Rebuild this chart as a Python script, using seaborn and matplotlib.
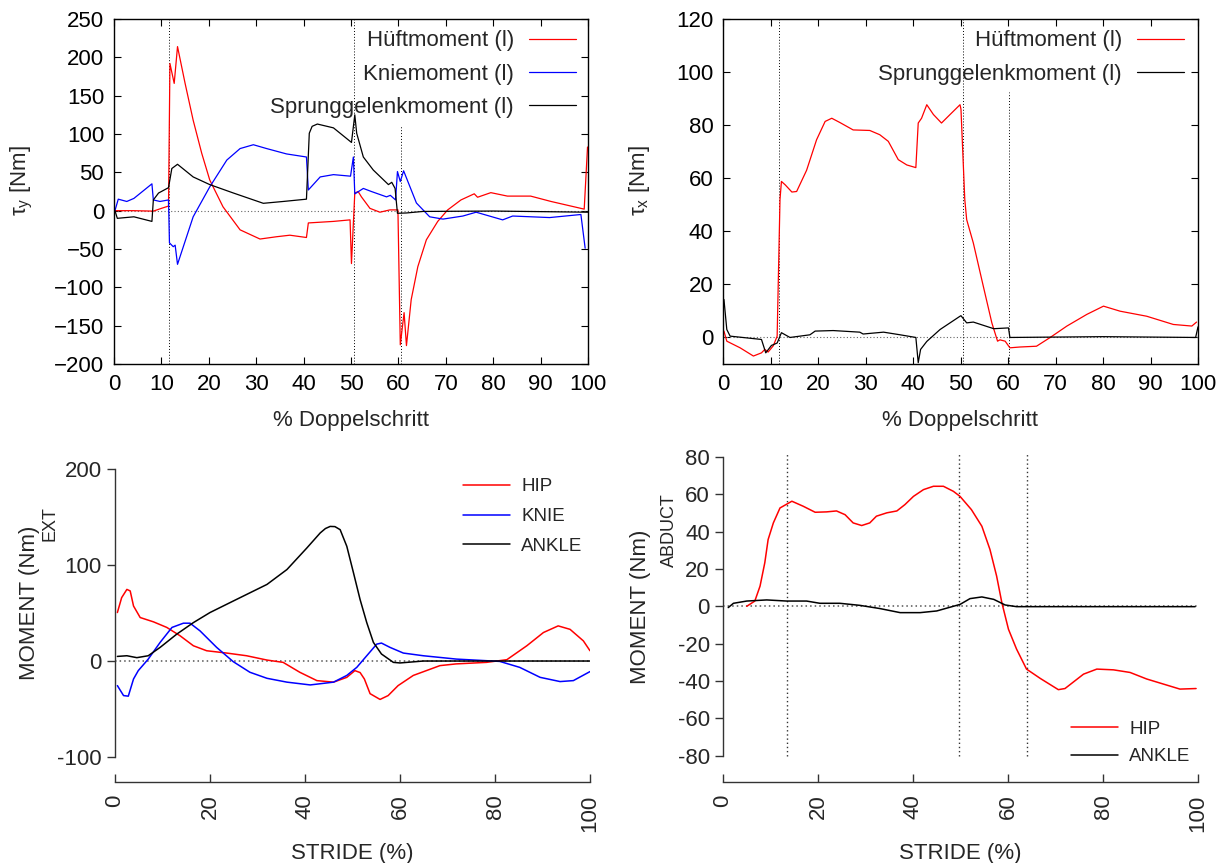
import matplotlib
matplotlib.use("Agg")
import matplotlib.pyplot as plt
import pandas as pd
import seaborn as sns

# --- Data ---
# top left: tau_y
hip_y_x = [0.2, 4.0, 8.3, 10.0, 11.5, 11.8, 12.7, 13.4, 15.0, 16.7, 18.5, 20.2, 23.0, 26.6, 30.8, 34.3, 37.1, 40.6,
           41.0, 46.3, 49.8, 50.1, 50.8, 51.5, 52.2, 54.0, 56.1, 58.2, 59.9, 60.4, 61.2, 61.7, 62.7, 64.1, 65.9, 68.3,
           70.4, 73.2, 76.0, 76.7, 79.5, 83.0, 87.9, 92.2, 98.5, 99.2, 99.9]
hip_y = [0, 0, -0.6, 3, 6, 192, 166, 214, 166, 118, 75, 40, 5, -25, -37, -34, -32, -35,
         -16, -14, -12, -69, 23, 25, 18, 3, -2, 1, 1, -175, -133, -176, -116, -73, -38, -14,
         1, 14, 22, 17.5, 23.5, 19, 19, 12, 3, 2, 83]

knee_y_x = [0.2, 0.9, 2.7, 4.2, 5.6, 8.0, 8.3, 9.7, 11.5, 11.7, 12.5, 12.9, 13.4, 16.7, 20.2, 23.8, 26.6, 29.4,
            32.2, 36.4, 40.6, 41.0, 43.5, 46.3, 49.9, 50.5, 50.8, 51.1, 52.6, 54.3, 57.5, 58.3, 59.4, 59.8, 60.4,
            61.1, 63.8, 66.6, 69.4, 73.6, 76.4, 79.2, 82.0, 84.1, 91.9, 98.5, 99.4]
knee_y = [0, 15, 12, 16, 23, 35, 14, 12, 14, -42, -47, -45, -70, -8, 31, 66, 81, 86,
          81, 74, 70, 27, 44, 47, 45, 70, 22, 23, 29, 25, 18, 20, 14, 51, 38,
          52, 10, -8, -11, -7, -2, -7, -12, -7, -9, -5, -49]

ankle_y_x = [0.2, 0.7, 4.2, 8.0, 8.3, 9.4, 11.5, 12.2, 13.4, 16.7, 20.2, 25.2, 31.5, 35.7, 40.6, 41.2, 41.8, 42.9,
             46.3, 50.1, 50.8, 51.2, 52.6, 54.7, 57.9, 58.6, 59.3, 59.8, 61.7, 65.2, 80.0, 100]
ankle_y = [0, -10, -8, -14, 14, 23, 30, 55, 60.5, 44, 34, 23, 9.6, 12, 15, 101, 110, 113,
           108, 89, 125, 101, 70, 53, 34, 37, 29, -3.4, -3, -1, -0.5, -2]

# top right: tau_x
hip_x_x = [0.2, 0.8, 3.6, 6.4, 8.1, 8.8, 9.5, 10.6, 11.4, 12.0, 12.3, 13.1, 14.5, 15.5, 17.6, 19.7, 21.5, 22.9,
           24.6, 27.4, 30.9, 33.0, 34.8, 36.9, 38.7, 40.6, 41.1, 41.8, 42.9, 44.3, 46.0, 47.8, 49.9, 50.1, 50.9,
           51.3, 52.7, 54.8, 56.6, 57.8, 58.3, 59.4, 60.4, 62.5, 66.0, 68.8, 72.4, 76.6, 80.1, 83.6, 89.2, 94.8,
           98.7, 99.7]
hip_x = [2.4, -1.4, -3.9, -7, -5.8, -4.5, -5.5, -3.1, 0.5, 52, 58.8, 57.5, 54.8, 55, 63, 74.5, 81.4, 82.6,
         81, 78.2, 78, 76.4, 73.9, 67, 65, 64, 80.8, 82.6, 87.7, 84, 80.8, 84, 87.7, 86, 52,
         44.4, 35.6, 19.3, 5.5, -1.4, -0.9, -1.4, -3.9, -3.6, -3.3, -0.1, 4.3, 8.7, 11.8, 9.9, 8, 4.9,
         4.3, 5.8]

ankle_x_x = [0.2, 0.8, 1.5, 8.1, 9.0, 10.2, 11.4, 12.3, 14.1, 18.3, 19.4, 23.2, 28.8, 29.5, 33.8, 37.3, 40.6,
             41.1, 41.6, 42.9, 45.7, 49.9, 50.1, 51.3, 52.7, 57.0, 60.1, 60.4, 80.0, 99.5, 100]
ankle_x = [14.3, 3, 0.5, -0.75, -5.8, -3, -2.1, 1.8, 0, 1, 2.4, 2.6, 2, 1.3, 2, 1, 0,
           -9.5, -4.5, -1.5, 3, 8, 8.2, 5.5, 5.8, 3.3, 3.6, 0, 0.3, 0, 4]

# bottom left: external moments
hip_ext_x = [0.5, 1.4, 2.5, 3.2, 3.9, 5.3, 8.1, 10.9, 13.7, 16.5, 19.3, 23.5, 27.7, 32.0, 35.4, 38.9, 42.5, 46.0,
             48.8, 50.5, 51.6, 52.5, 53.7, 55.8, 57.5, 59.6, 62.8, 68.4, 71.8, 78.2, 82.5, 86.7, 90.2, 93.3, 95.8,
             98.6, 100]
hip_ext = [50.5, 66, 74.6, 73, 57.3, 45.3, 40.8, 35, 26.3, 15.9, 10.7, 8.3, 5.5, 1, -1.4, -11.7, -20.4, -22,
           -17, -10, -12, -18.7, -34, -40, -36, -25.6, -15, -4.8, -3, -1.4, 1.4, 15.9, 29.7, 36.6, 33,
           21, 10.7]

knee_ext_x = [0.5, 1.8, 2.8, 3.9, 4.9, 7.0, 9.5, 12.0, 14.4, 15.8, 17.9, 21.4, 24.9, 28.4, 32.0, 36.2, 41.1, 46.0,
              48.8, 50.9, 53.0, 55.1, 56.1, 57.9, 60.7, 64.9, 71.9, 81.0, 85.2, 89.5, 93.7, 96.5, 100]
knee_ext = [-25.6, -36, -36.6, -18.7, -10, 2, 19.4, 35, 39.4, 39.4, 31.4, 14.2, -0.7, -11.7, -18, -22, -24.9, -22,
            -15, -6.6, 5.5, 17.6, 18.7, 14.2, 8.3, 5.5, 2, -0.4, -6.6, -17, -21.4, -20.4, -11]

ankle_ext_x = [0.5, 2.5, 4.6, 7.0, 9.5, 13.0, 16.5, 20.0, 24.9, 32.0, 36.2, 40.4, 43.2, 44.3, 45.3, 46.3, 47.4,
               48.8, 50.2, 51.6, 53.0, 54.4, 56.1, 58.6, 60.0, 64.9, 100]
ankle_ext = [4.8, 5.5, 3.5, 5.5, 14.2, 28, 40, 50.5, 62.5, 79.8, 95.3, 117.8, 133.4, 138, 140.2, 140, 136.8,
             119.5, 92, 64, 40, 19.4, 7.3, -1.4, -2, 0, 0]

# bottom right: abduction moments
hip_abd_x = [5.0, 6.7, 7.8, 8.8, 9.5, 10.6, 12.0, 14.5, 16.9, 19.4, 21.8, 23.9, 25.7, 27.4, 29.2, 30.9, 32.3,
             34.5, 36.6, 38.3, 40.1, 42.2, 44.3, 46.4, 48.5, 49.9, 52.3, 54.5, 56.2, 57.6, 58.7, 60.1, 61.8, 63.9,
             66.8, 70.6, 72.0, 75.9, 78.7, 82.2, 85.7, 89.2, 92.7, 96.2, 99.6]
hip_abd = [0, 2.8, 10.8, 23.3, 35.7, 44.6, 52.6, 56.2, 53.5, 50.3, 50.5, 51, 49, 44.6, 43.2, 44.6, 48.2,
           50, 51, 54.4, 58.8, 62.4, 64.2, 64.2, 61.5, 58.8, 51.7, 42.8, 30.4, 16.2, 2, -12.3, -22.9, -33.6,
           -38.6, -44.6, -44, -36.3, -33.6, -34, -35.4, -38.9, -41.6, -44.3, -44]

ankle_abd_x = [1.1, 2.2, 5.0, 9.2, 13.4, 17.6, 20.4, 24.6, 28.8, 33.0, 37.3, 41.5, 45.0, 49.9, 52.0, 54.5, 57.0,
               59.4, 61.8, 99.4]
ankle_abd = [-0.7, 1.6, 2.8, 3.4, 2.8, 2.8, 1.6, 1.6, 0.5, -1.2, -3.4, -3.4, -2.5, 1, 4.1, 5, 3.7,
             0.7, -0.2, -0.2]

# gait events (dotted vertical lines)
events_y = [11.6, 50.6, 60.5]
events_x = [11.8, 50.5, 60.2]
events_abd = [13.5, 49.7, 64.0]

# --- Style ---
sns.set_theme(style="ticks")
plt.rcParams['font.family'] = ['Liberation Sans', 'DejaVu Sans']
plt.rcParams['mathtext.fontset'] = 'custom'
plt.rcParams['mathtext.rm'] = 'Liberation Sans'
plt.rcParams['mathtext.it'] = 'Liberation Sans:italic'

W, H = 1224, 863
fig = plt.figure(figsize=(W / 100, H / 100), dpi=100)


def add_ax(left, top, right, bottom):
    return fig.add_axes([left / W, 1 - bottom / H, (right - left) / W, (bottom - top) / H])


def draw(ax, x, y, color, lw):
    df = pd.DataFrame({'x': x, 'y': y})
    sns.lineplot(data=df, x='x', y='y', ax=ax, color=color, lw=lw,
                 estimator=None, sort=False, legend=False)
    return ax.lines[-1]


dots = (0, (1, 2))

# --- Top panels (gnuplot look) ---
def style_top(ax, ylim, yticks):
    ax.set_xlim(0, 100)
    ax.set_ylim(*ylim)
    ax.set_xticks(range(0, 101, 10))
    ax.set_yticks(yticks)
    ax.tick_params(direction='in', top=True, right=True, length=5, width=0.8,
                   labelsize=16, pad=7, color='black', labelcolor='black')
    for s in ax.spines.values():
        s.set_color('black')
        s.set_linewidth(1.0)
    ax.axhline(0, color='#666666', lw=0.8, ls=dots, zorder=1)
    ax.set_xlabel('% Doppelschritt', fontsize=16, va='center')
    ax.xaxis.set_label_coords(0.5, -0.165)


ax1 = add_ax(114, 19, 588, 364)
style_top(ax1, (-200, 250), range(-200, 251, 50))
ax1.axvline(events_y[0], color='black', lw=0.7, ls=dots)
ax1.axvline(events_y[1], color='black', lw=0.7, ls=dots)
ax1.axvline(events_y[2], ymax=0.693, color='black', lw=0.7, ls=dots)
l1 = draw(ax1, hip_y_x, hip_y, '#ff0000', 0.9)
l2 = draw(ax1, knee_y_x, knee_y, '#0000ff', 0.9)
l3 = draw(ax1, ankle_y_x, ankle_y, '#000000', 0.9)
ax1.legend([l1, l2, l3], ['Hüftmoment (l)', 'Kniemoment (l)', 'Sprunggelenkmoment (l)'],
           loc='upper right', bbox_to_anchor=(0.975, 0.967), markerfirst=False, frameon=False,
           fontsize=16, handlelength=2.1, handletextpad=0.7, labelspacing=0.55,
           borderpad=0, borderaxespad=0)
ax1.set_ylabel(r'$\mathrm{\tau_y}$ [Nm]', fontsize=16, va='center')
ax1.yaxis.set_label_coords(-0.194, 0.533)

ax2 = add_ax(723, 19, 1198, 364)
style_top(ax2, (-10, 120), range(0, 121, 20))
ax2.axvline(events_x[0], color='black', lw=0.7, ls=dots)
ax2.axvline(events_x[1], color='black', lw=0.7, ls=dots)
ax2.axvline(events_x[2], ymax=0.789, color='black', lw=0.7, ls=dots)
m1 = draw(ax2, hip_x_x, hip_x, '#ff0000', 0.9)
m2 = draw(ax2, ankle_x_x, ankle_x, '#000000', 0.9)
ax2.legend([m1, m2], ['Hüftmoment (l)', 'Sprunggelenkmoment (l)'],
           loc='upper right', bbox_to_anchor=(0.9705, 0.967), markerfirst=False, frameon=False,
           fontsize=16, handlelength=2.1, handletextpad=0.7, labelspacing=0.55,
           borderpad=0, borderaxespad=0)
ax2.set_ylabel(r'$\mathrm{\tau_x}$ [Nm]', fontsize=16, va='center')
ax2.yaxis.set_label_coords(-0.175, 0.533)


# --- Bottom panels (R look) ---
def style_bottom(ax, ylim, yticks):
    ax.set_xlim(0, 100)
    ax.set_ylim(*ylim)
    ax.set_xticks(range(0, 101, 20), labels=[str(t) for t in range(0, 101, 20)], rotation=90)
    ax.set_yticks(yticks, labels=[str(t) for t in yticks])
    for s in ['top', 'right']:
        ax.spines[s].set_visible(False)
    ax.spines['left'].set_bounds(min(yticks), max(yticks))
    ax.spines['bottom'].set_bounds(0, 100)
    for s in ['left', 'bottom']:
        ax.spines[s].set_color('#333333')
        ax.spines[s].set_linewidth(1.0)
    ax.tick_params(axis='y', direction='out', length=6, width=1, labelsize=16, color='#333333')
    ax.tick_params(axis='x', direction='in', length=6, width=1, labelsize=16, pad=9, color='#333333')
    ax.axhline(0, xmax=1.0, color='#555555', lw=1.1, ls=dots, zorder=1)
    ax.set_xlabel('STRIDE (%)', fontsize=16, va='center')


ax3 = add_ax(115, 469, 590, 782)
style_bottom(ax3, (-126, 200), [-100, 0, 100, 200])
ax3.xaxis.set_label_coords(0.5, -0.227)
n1 = draw(ax3, hip_ext_x, hip_ext, '#ff0000', 1.1)
n2 = draw(ax3, knee_ext_x, knee_ext, '#0000ff', 1.1)
n3 = draw(ax3, ankle_ext_x, ankle_ext, '#000000', 1.1)
ax3.legend([n1, n2, n3], ['HIP', 'KNIE', 'ANKLE'], loc='upper left', bbox_to_anchor=(0.7326, 0.971),
           frameon=False, fontsize=13.5, handlelength=2.5, handletextpad=0.6, labelspacing=0.68,
           borderpad=0, borderaxespad=0)
ax3.set_ylabel('MOMENT (Nm)', fontsize=16, va='center')
ax3.yaxis.set_label_coords(-0.179, 0.572)
ax3.text(-0.137, 0.827, 'EXT', transform=ax3.transAxes, rotation=90, fontsize=13,
         ha='center', va='center')

ax4 = add_ax(723, 453, 1198, 782)
style_bottom(ax4, (-94, 82), list(range(-80, 81, 20)))
ax4.xaxis.set_label_coords(0.5, -0.216)
for ev in events_abd:
    ax4.axvline(ev, ymin=(-80 + 94) / 176, ymax=1.0, color='#333333', lw=1.0, ls=dots)
p1 = draw(ax4, hip_abd_x, hip_abd, '#ff0000', 1.1)
p2 = draw(ax4, ankle_abd_x, ankle_abd, '#000000', 1.1)
ax4.legend([p1, p2], ['HIP', 'ANKLE'], loc='lower left', bbox_to_anchor=(0.7326, 0.051),
           frameon=False, fontsize=13.5, handlelength=2.5, handletextpad=0.6, labelspacing=0.55,
           borderpad=0, borderaxespad=0)
ax4.set_ylabel('MOMENT (Nm)', fontsize=16, va='center')
ax4.yaxis.set_label_coords(-0.173, 0.532)
ax4.text(-0.112, 0.766, 'ABDUCT', transform=ax4.transAxes, rotation=90, fontsize=13,
         ha='center', va='center')

fig.savefig('out.png', dpi=100, facecolor='white')
